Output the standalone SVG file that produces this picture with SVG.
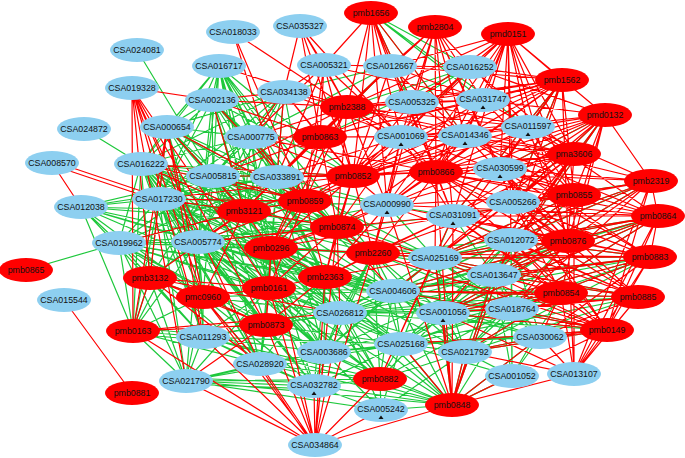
<svg xmlns="http://www.w3.org/2000/svg" width="685" height="458" viewBox="0 0 685 458">
<style>
.g{fill:none;stroke:#1ec83c;stroke-width:1.2}
.rd{fill:none;stroke:#ff0000;stroke-width:1.2}
.b ellipse{fill:#8dcff0}
.r ellipse{fill:#ff0000}
text{font-family:"Liberation Sans",Arial,sans-serif;font-size:8.8px;fill:#111;text-anchor:middle}
.tri{fill:#111}
</style>
<rect width="685" height="458" fill="#fff"/>
<g id="edges">
<path class="g" d="M137 50L213 176M84 129L141 164
M119 243L26 270 119 243 198 242 119 243 159 199 119 243 141 164 119 243 271 248 119 243 244 211 119 243 213 176 119 243 337 227 119 243 277 177 119 243 325 277 119 243 269 288 119 243 203 297 119 243 266 325 119 243 81 207 119 243 133 331 119 243 373 253 119 243 393 291 119 243 203 337 119 243 260 364 119 243 340 313 119 243 324 352 119 243 186 381 119 243 150 278
M81 207L159 199 81 207 133 331 81 207 213 176 81 207 198 242 81 207 244 211 81 207 277 177 81 207 271 248 81 207 337 227 81 207 325 277 81 207 269 288 81 207 203 337 81 207 203 297
M141 164L213 176 141 164 277 177 141 164 159 199 141 164 198 242 141 164 244 211 141 164 271 248 141 164 337 227 141 164 305 201 141 164 251 137 141 164 269 288 141 164 325 277 141 164 203 297 141 164 203 337 141 164 340 313 141 164 324 352 141 164 260 364 141 164 373 253 141 164 393 291 141 164 353 176 141 164 387 205 141 164 266 325 141 164 314 386 141 164 150 278
M159 199L213 176 159 199 277 177 159 199 198 242 159 199 244 211 159 199 271 248 159 199 337 227 159 199 325 277 159 199 269 288 159 199 373 253 159 199 393 291 159 199 340 313 159 199 266 325 159 199 324 352 159 199 260 364 159 199 203 337 159 199 435 258 159 199 203 297 159 199 314 386 159 199 387 205 159 199 305 201 159 199 251 137 159 199 186 381 159 199 380 379 159 199 401 344 159 199 150 278
M198 242L277 177 198 242 213 176 198 242 271 248 198 242 337 227 198 242 373 253 198 242 325 277 198 242 269 288 198 242 393 291 198 242 340 313 198 242 324 352 198 242 260 364 198 242 266 325 198 242 435 258 198 242 314 386 198 242 203 337 198 242 203 297 198 242 150 278 198 242 443 313 198 242 401 344 198 242 186 381 198 242 380 379 198 242 387 205 198 242 453 216 198 242 305 201 198 242 244 211
M213 176L277 177 213 176 271 248 213 176 337 227 213 176 373 253 213 176 325 277 213 176 393 291 213 176 435 258 213 176 340 313 213 176 269 288 213 176 387 205 213 176 453 216 213 176 324 352 213 176 305 201 213 176 251 137 213 176 353 176 213 176 244 211 213 176 260 364 213 176 203 297 213 176 150 278 213 176 133 331 213 176 266 325
M219 66L213 176 219 66 277 177 219 66 251 137 219 66 159 199 219 66 198 242 219 66 244 211 219 66 271 248 219 66 337 227 219 66 167 127 219 66 141 164 219 66 305 201 219 66 353 176 219 66 325 277 219 66 269 288 219 66 212 100 219 66 373 253
M212 100L251 137 212 100 213 176 212 100 277 177 212 100 159 199 212 100 198 242 212 100 305 201 212 100 337 227 212 100 271 248 212 100 244 211 212 100 353 176 212 100 141 164 212 100 269 288 212 100 325 277
M167 127L251 137 167 127 213 176 167 127 277 177 167 127 159 199 167 127 198 242 167 127 284 92 167 127 244 211 167 127 271 248 167 127 305 201 167 127 337 227 167 127 212 100 167 127 141 164 167 127 269 288 167 127 325 277 167 127 203 297
M284 92L251 137 284 92 213 176 284 92 277 177 284 92 305 201 284 92 159 199 284 92 141 164 284 92 244 211 284 92 271 248 284 92 198 242
M251 137L277 177 251 137 213 176 251 137 244 211 251 137 271 248 251 137 337 227 251 137 305 201 251 137 159 199 251 137 198 242 251 137 325 277 251 137 269 288
M277 177L271 248 277 177 337 227 277 177 373 253 277 177 325 277 277 177 269 288 277 177 393 291 277 177 340 313 277 177 435 258 277 177 324 352 277 177 244 211 277 177 387 205
M150 278L198 242 150 278 159 199 150 278 119 243M133 331L119 243 133 331 213 176M203 297L213 176
M371 13L470 67 371 13 483 100 371 13 528 127 371 13 412 102 371 13 465 136
M562 80L528 127 562 80 500 169 562 80 513 202 562 80 453 216
M605 115L513 202 605 115 511 240 605 115 500 169 605 115 494 275
M470 67L412 102 470 67 347 107 470 67 320 137 470 67 401 137
M390 66L347 107 390 66 320 137 390 66 284 92 390 66 412 102 390 66 251 137
M651 181L511 240 651 181 494 275 651 181 435 258 651 181 393 291 651 181 513 202
M658 216L494 275 658 216 511 240 658 216 443 313 658 216 435 258 658 216 393 291 658 216 512 309 658 216 340 313
M650 257L494 275 650 257 435 258 650 257 443 313 650 257 465 352 650 257 393 291 650 257 340 313 650 257 401 344 650 257 512 309 650 257 511 240
M638 297L435 258 638 297 465 352 638 297 401 344 638 297 393 291 638 297 340 313 638 297 443 313 638 297 494 275
M607 330L401 344 607 330 340 313 607 330 324 352 607 330 465 352 607 330 443 313 607 330 393 291 607 330 512 309
M574 195L511 240 574 195 494 275 574 195 435 258 574 195 453 216
M568 241L435 258 568 241 393 291 568 241 443 313 568 241 340 313 568 241 401 344 568 241 324 352 568 241 465 352 568 241 494 275
M561 293L340 313 561 293 393 291 561 293 401 344 561 293 324 352 561 293 465 352 561 293 512 376 561 293 325 277 561 293 443 313
M271 248L393 291 271 248 340 313 271 248 435 258 271 248 324 352 271 248 401 344 271 248 260 364 271 248 314 386 271 248 443 313 271 248 465 352 271 248 380 379
M373 253L393 291 373 253 340 313 373 253 401 344 373 253 324 352 373 253 443 313 373 253 465 352 373 253 512 309 373 253 494 275 373 253 511 240 373 253 314 386 373 253 380 379 373 253 452 405
M325 277L393 291 325 277 340 313 325 277 401 344 325 277 324 352 325 277 314 386 325 277 260 364 325 277 443 313 325 277 465 352 325 277 380 379 325 277 452 405 325 277 381 410
M269 288L340 313 269 288 324 352 269 288 260 364 269 288 314 386 269 288 393 291 269 288 203 337 269 288 401 344 269 288 186 381 269 288 380 379 269 288 452 405
M203 297L203 337 203 297 186 381 203 297 133 331 203 297 260 364 203 297 314 386 203 297 340 313 203 297 324 352 203 297 150 278 203 297 393 291
M150 278L133 331 150 278 203 337 150 278 186 381
M133 331L203 337 133 331 186 381 133 331 159 199 133 331 198 242 133 331 141 164 133 331 260 364M133 328L203 334M133 334L203 340
M203 337L186 381 203 337 260 364 203 337 314 386 203 337 266 325 203 337 340 313 203 337 324 352 203 337 380 379 203 337 401 344 203 337 452 405
M266 325L340 313 266 325 324 352 266 325 260 364 266 325 314 386 266 325 401 344 266 325 380 379 266 325 393 291
M186 381L314 386 186 381 260 364 186 381 380 379 186 381 401 344 186 381 452 405 186 381 324 352 186 381 381 410M186 378L314 383M186 384L314 389
M260 364L314 386 260 364 324 352 260 364 380 379
M314 386L380 379 314 386 381 410 314 386 452 405 314 386 324 352 314 386 401 344
M452 405L465 352 452 405 512 376 452 405 401 344 452 405 324 352 452 405 340 313 452 405 393 291 452 405 443 313 452 405 512 309 452 405 540 337 452 405 494 275 452 405 511 240 452 405 381 410 452 405 380 379 452 405 260 364 452 405 203 337 452 405 435 258
M380 379L401 344 380 379 324 352 380 379 340 313 380 379 393 291 380 379 443 313 380 379 465 352 380 379 512 309 380 379 381 410
M381 410L401 344 381 410 324 352 381 410 465 352
M401 344L340 313 401 344 324 352 401 344 393 291 401 344 443 313 401 344 465 352 401 344 512 309 401 344 540 337 401 344 512 376 401 344 494 275 401 344 511 240 401 344 435 258
M465 352L443 313 465 352 512 309 465 352 540 337 465 352 512 376 465 352 494 275 465 352 435 258 465 352 393 291 465 352 340 313
M512 376L540 337 512 376 512 309 512 376 494 275 512 376 511 240
M540 337L512 309 540 337 494 275 540 337 511 240 540 337 435 258 540 337 393 291 540 337 443 313
M512 309L494 275 512 309 511 240 512 309 435 258 512 309 393 291 512 309 443 313 512 309 340 313
M494 275L511 240 494 275 435 258 494 275 393 291 494 275 443 313 494 275 340 313 494 275 453 216
M511 240L435 258 511 240 393 291 511 240 453 216 511 240 443 313
M435 258L393 291 435 258 340 313 435 258 443 313 435 258 453 216 435 258 387 205 435 258 324 352
M393 291L340 313 393 291 324 352 393 291 443 313
M340 313L324 352 340 313 443 313"/>
<path class="rd" d="M64 300L132 393M52 163L81 207M52 161L159 197M52 165L159 201
M132 88L212 100 132 88 133 331 132 88 150 278 132 88 186 381 132 88 203 337 132 88 203 297 132 88 198 242 132 88 260 364 132 88 266 325 132 88 269 288
M212 100L284 92M233 32L277 177 233 32 305 201
M300 26L324 65 300 26 320 137 300 26 347 107 300 26 284 92 300 26 401 137 300 26 353 176
M371 13L324 65 371 13 390 66 371 13 401 137 371 13 347 107 371 13 412 102 371 13 436 172 371 13 387 205 371 13 353 176 371 13 465 136 371 13 453 216
M435 27L412 102 435 27 401 137 435 27 390 66 435 27 483 100 435 27 465 136 435 27 436 172 435 27 500 169 435 27 387 205 435 27 528 127 435 27 347 107 435 27 353 176 435 27 453 216 435 27 513 202
M508 34L470 67 508 34 483 100 508 34 465 136 508 34 401 137 508 34 528 127 508 34 500 169 508 34 513 202 508 34 436 172 508 34 412 102 508 34 574 154 508 34 574 195 508 34 453 216 508 34 390 66 508 34 605 115 508 34 511 240 508 34 568 241 508 34 387 205 508 34 347 107 508 34 562 80
M562 80L470 67 562 80 483 100 562 80 465 136 562 80 401 137 562 80 528 127 562 80 500 169 562 80 513 202 562 80 436 172 562 80 453 216 562 80 390 66 562 80 412 102 562 80 574 195 562 80 511 240 562 80 387 205 562 80 353 176 562 80 347 107 562 80 568 241 562 80 435 258 562 80 320 137
M605 115L465 136 605 115 528 127 605 115 500 169 605 115 401 137 605 115 483 100 605 115 470 67 605 115 436 172 605 115 513 202 605 115 453 216 605 115 511 240 605 115 568 241 605 115 574 195 605 115 387 205 605 115 353 176 605 115 435 258 605 115 494 275 605 115 561 293 605 115 651 181
M574 154L465 136 574 154 528 127 574 154 401 137 574 154 500 169 574 154 483 100 574 154 470 67 574 154 453 216 574 154 387 205 574 154 436 172 574 154 513 202 574 154 511 240 574 154 435 258 574 154 494 275 574 154 353 176 574 154 347 107 574 154 568 241 574 154 393 291 574 154 443 313
M651 181L500 169 651 181 513 202 651 181 528 127 651 181 465 136 651 181 453 216 651 181 511 240 651 181 436 172 651 181 494 275 651 181 435 258 651 181 574 195 651 181 568 241 651 181 512 309 651 181 607 330 651 181 658 216
M658 216L500 169 658 216 513 202 658 216 453 216 658 216 511 240 658 216 494 275 658 216 435 258 658 216 465 136 658 216 528 127 658 216 436 172 658 216 387 205 658 216 393 291 658 216 443 313 658 216 512 309 658 216 607 330 658 216 650 257
M650 257L513 202 650 257 453 216 650 257 511 240 650 257 494 275 650 257 435 258 650 257 500 169 650 257 436 172 650 257 393 291 650 257 443 313 650 257 512 309 650 257 540 337 650 257 387 205 650 257 465 136 650 257 373 253 650 257 607 330
M638 297L511 240 638 297 494 275 638 297 435 258 638 297 453 216 638 297 513 202 638 297 443 313 638 297 512 309 638 297 393 291 638 297 540 337 638 297 387 205 638 297 436 172 638 297 500 169 638 297 574 374
M607 330L574 374 607 330 540 337 607 330 512 309 607 330 512 376 607 330 494 275 607 330 511 240 607 330 435 258 607 330 443 313 607 330 465 352 607 330 453 216 607 330 513 202 607 330 500 169 607 330 393 291 607 330 373 253 607 330 401 344
M574 195L500 169 574 195 513 202 574 195 528 127 574 195 465 136 574 195 483 100 574 195 401 137 574 195 453 216 574 195 511 240 574 195 435 258 574 195 494 275 574 195 387 205 574 195 436 172
M568 241L511 240 568 241 513 202 568 241 500 169 568 241 453 216 568 241 435 258 568 241 494 275 568 241 465 136 568 241 528 127 568 241 393 291 568 241 443 313 568 241 512 309 568 241 436 172
M561 293L494 275 561 293 511 240 561 293 435 258 561 293 512 309 561 293 443 313 561 293 465 352 561 293 540 337 561 293 393 291 561 293 453 216 561 293 513 202
M436 172L401 137 436 172 465 136 436 172 483 100 436 172 528 127 436 172 500 169 436 172 387 205 436 172 453 216 436 172 513 202 436 172 470 67 436 172 390 66 436 172 412 102 436 172 347 107 436 172 353 176 436 172 511 240 436 172 435 258 436 172 277 177 436 172 251 137
M401 137L347 107 401 137 320 137 401 137 353 176 401 137 324 65 401 137 284 92 401 137 251 137 401 137 277 177 401 137 305 201 401 137 337 227 401 137 387 205 401 137 453 216 401 137 373 253 401 137 465 136
M465 136L347 107 465 136 353 176 465 136 320 137 465 136 412 102 465 136 390 66 465 136 305 201 465 136 337 227 465 136 387 205 465 136 373 253 465 136 483 100
M483 100L347 107 483 100 412 102 483 100 390 66 483 100 324 65 483 100 353 176 483 100 320 137
M528 127L401 137 528 127 412 102 528 127 353 176 528 127 347 107 528 127 500 169
M470 67L401 137 470 67 353 176 470 67 390 66
M347 107L324 65 347 107 284 92 347 107 390 66 347 107 412 102 347 107 251 137 347 107 277 177 347 107 320 137 347 107 219 66 347 107 212 100 347 107 213 176 347 107 305 201 347 107 337 227 347 107 387 205 347 107 271 248 347 107 244 211 347 107 233 32
M320 137L324 65 320 137 284 92 320 137 251 137 320 137 277 177 320 137 213 176 320 137 305 201 320 137 353 176 320 137 390 66 320 137 412 102 320 137 244 211 320 137 337 227 320 137 271 248 320 137 212 100
M353 176L277 177 353 176 251 137 353 176 305 201 353 176 337 227 353 176 324 65 353 176 284 92 353 176 412 102 353 176 390 66 353 176 244 211 353 176 271 248 353 176 213 176 353 176 387 205 353 176 373 253 353 176 325 277 353 176 141 164 353 176 159 199
M305 201L277 177 305 201 213 176 305 201 244 211 305 201 251 137 305 201 337 227 305 201 271 248 305 201 159 199 305 201 141 164 305 201 198 242 305 201 325 277 305 201 269 288 305 201 212 100 305 201 167 127
M244 211L213 176 244 211 277 177 244 211 159 199 244 211 141 164 244 211 198 242 244 211 271 248 244 211 337 227 244 211 167 127 244 211 212 100 244 211 119 243 244 211 150 278 244 211 203 297
M337 227L277 177 337 227 387 205 337 227 271 248 337 227 373 253 337 227 325 277 337 227 198 242 337 227 269 288 337 227 393 291 337 227 340 313 337 227 435 258 337 227 453 216
M324 65L284 92 324 65 251 137 324 65 277 177 324 65 305 201 324 65 390 66
M284 92L251 137 284 92 277 177
M167 127L150 278 167 127 203 297 167 127 203 337 167 127 133 331
M271 248L373 253 271 248 325 277 271 248 269 288 271 248 266 325 271 248 387 205 271 248 453 216
M373 253L387 205 373 253 453 216 373 253 435 258 373 253 325 277 373 253 513 202
M325 277L269 288 325 277 266 325 325 277 435 258 325 277 453 216 325 277 387 205
M269 288L266 325 269 288 203 297 269 288 150 278
M203 297L150 278 203 297 266 325 203 297 260 364
M150 278L260 364 150 278 266 325 150 278 340 313
M133 331L315 445 133 331 340 313 133 331 266 325 133 331 150 278
M266 325L186 381
M315 445L452 405 315 445 381 410 315 445 203 337 315 445 203 297 315 445 314 386 315 445 324 352 315 445 340 313 315 445 325 277 315 445 337 227 315 445 373 253 315 445 271 248 315 445 269 288 315 445 266 325 315 445 260 364 315 445 186 381 315 445 380 379M313 445L258 364
M452 405L574 374 452 405 512 376 452 405 465 352 452 405 443 313 452 405 435 258 452 405 453 216 452 405 387 205 452 405 436 172 452 405 511 240 452 405 494 275 452 405 401 344 452 405 540 337
M574 374L540 337 574 374 443 313 574 374 465 352 574 374 607 330 574 374 638 297 574 374 650 257 574 374 658 216 574 374 651 181 574 374 561 293 574 374 568 241 574 374 574 195
M465 352L540 337M380 379L435 258 380 379 453 216"/>
</g>
<g id="nodes">
<g id="CSA024081" class="b"><ellipse cx="137" cy="50" rx="27" ry="12"/><text x="137" y="53">CSA024081</text></g>
<g id="CSA018033" class="b"><ellipse cx="233" cy="32" rx="27" ry="12"/><text x="233" y="35">CSA018033</text></g>
<g id="CSA035327" class="b"><ellipse cx="300" cy="26" rx="27" ry="12"/><text x="300" y="29">CSA035327</text></g>
<g id="CSA016717" class="b"><ellipse cx="219" cy="66" rx="27" ry="12"/><text x="219" y="69">CSA016717</text></g>
<g id="CSA005321" class="b"><ellipse cx="324" cy="65" rx="27" ry="12"/><text x="324" y="68">CSA005321</text></g>
<g id="CSA012667" class="b"><ellipse cx="390" cy="66" rx="27" ry="12"/><text x="390" y="69">CSA012667</text></g>
<g id="CSA016252" class="b"><ellipse cx="470" cy="67" rx="27" ry="12"/><text x="470" y="70">CSA016252</text></g>
<g id="CSA019328" class="b"><ellipse cx="132" cy="88" rx="27" ry="12"/><text x="132" y="91">CSA019328</text></g>
<g id="CSA002136" class="b"><ellipse cx="212" cy="100" rx="27" ry="12"/><text x="212" y="103">CSA002136</text></g>
<g id="CSA034138" class="b"><ellipse cx="284" cy="92" rx="27" ry="12"/><text x="284" y="95">CSA034138</text></g>
<g id="CSA005325" class="b"><ellipse cx="412" cy="102" rx="27" ry="12"/><text x="412" y="105">CSA005325</text></g>
<g id="CSA031747" class="b"><ellipse cx="483" cy="100" rx="27" ry="12"/><text x="483" y="102">CSA031747</text><path class="tri" d="M480.5 109H485.5L483 105.5Z"/></g>
<g id="CSA024872" class="b"><ellipse cx="84" cy="129" rx="27" ry="12"/><text x="84" y="132">CSA024872</text></g>
<g id="CSA000654" class="b"><ellipse cx="167" cy="127" rx="27" ry="12"/><text x="167" y="130">CSA000654</text></g>
<g id="CSA000775" class="b"><ellipse cx="251" cy="137" rx="27" ry="12"/><text x="251" y="140">CSA000775</text></g>
<g id="CSA001069" class="b"><ellipse cx="401" cy="137" rx="27" ry="12"/><text x="401" y="139">CSA001069</text><path class="tri" d="M398.5 146H403.5L401 142.5Z"/></g>
<g id="CSA014346" class="b"><ellipse cx="465" cy="136" rx="27" ry="12"/><text x="465" y="138">CSA014346</text><path class="tri" d="M462.5 145H467.5L465 141.5Z"/></g>
<g id="CSA011597" class="b"><ellipse cx="528" cy="127" rx="27" ry="12"/><text x="528" y="129">CSA011597</text><path class="tri" d="M525.5 136H530.5L528 132.5Z"/></g>
<g id="CSA008570" class="b"><ellipse cx="52" cy="163" rx="27" ry="12"/><text x="52" y="166">CSA008570</text></g>
<g id="CSA016222" class="b"><ellipse cx="141" cy="164" rx="27" ry="12"/><text x="141" y="167">CSA016222</text></g>
<g id="CSA005815" class="b"><ellipse cx="213" cy="176" rx="27" ry="12"/><text x="213" y="179">CSA005815</text></g>
<g id="CSA033891" class="b"><ellipse cx="277" cy="177" rx="27" ry="12"/><text x="277" y="180">CSA033891</text></g>
<g id="CSA030599" class="b"><ellipse cx="500" cy="169" rx="27" ry="12"/><text x="500" y="171">CSA030599</text><path class="tri" d="M497.5 178H502.5L500 174.5Z"/></g>
<g id="CSA017230" class="b"><ellipse cx="159" cy="199" rx="27" ry="12"/><text x="159" y="202">CSA017230</text></g>
<g id="CSA012038" class="b"><ellipse cx="81" cy="207" rx="27" ry="12"/><text x="81" y="210">CSA012038</text></g>
<g id="CSA000990" class="b"><ellipse cx="387" cy="205" rx="27" ry="12"/><text x="387" y="207">CSA000990</text><path class="tri" d="M384.5 214H389.5L387 210.5Z"/></g>
<g id="CSA031091" class="b"><ellipse cx="453" cy="216" rx="27" ry="12"/><text x="453" y="218">CSA031091</text><path class="tri" d="M450.5 225H455.5L453 221.5Z"/></g>
<g id="CSA005266" class="b"><ellipse cx="513" cy="202" rx="27" ry="12"/><text x="513" y="205">CSA005266</text></g>
<g id="CSA019962" class="b"><ellipse cx="119" cy="243" rx="27" ry="12"/><text x="119" y="246">CSA019962</text></g>
<g id="CSA005774" class="b"><ellipse cx="198" cy="242" rx="27" ry="12"/><text x="198" y="245">CSA005774</text></g>
<g id="CSA012072" class="b"><ellipse cx="511" cy="240" rx="27" ry="12"/><text x="511" y="243">CSA012072</text></g>
<g id="CSA025169" class="b"><ellipse cx="435" cy="258" rx="27" ry="12"/><text x="435" y="261">CSA025169</text></g>
<g id="CSA013647" class="b"><ellipse cx="494" cy="275" rx="27" ry="12"/><text x="494" y="278">CSA013647</text></g>
<g id="CSA004606" class="b"><ellipse cx="393" cy="291" rx="27" ry="12"/><text x="393" y="294">CSA004606</text></g>
<g id="CSA015544" class="b"><ellipse cx="64" cy="300" rx="27" ry="12"/><text x="64" y="303">CSA015544</text></g>
<g id="CSA026812" class="b"><ellipse cx="340" cy="313" rx="27" ry="12"/><text x="340" y="316">CSA026812</text></g>
<g id="CSA001056" class="b"><ellipse cx="443" cy="313" rx="27" ry="12"/><text x="443" y="315">CSA001056</text><path class="tri" d="M440.5 322H445.5L443 318.5Z"/></g>
<g id="CSA018764" class="b"><ellipse cx="512" cy="309" rx="27" ry="12"/><text x="512" y="312">CSA018764</text></g>
<g id="CSA011293" class="b"><ellipse cx="203" cy="337" rx="27" ry="12"/><text x="203" y="340">CSA011293</text></g>
<g id="CSA030062" class="b"><ellipse cx="540" cy="337" rx="27" ry="12"/><text x="540" y="340">CSA030062</text></g>
<g id="CSA025168" class="b"><ellipse cx="401" cy="344" rx="27" ry="12"/><text x="401" y="347">CSA025168</text></g>
<g id="CSA003686" class="b"><ellipse cx="324" cy="352" rx="27" ry="12"/><text x="324" y="355">CSA003686</text></g>
<g id="CSA021792" class="b"><ellipse cx="465" cy="352" rx="27" ry="12"/><text x="465" y="355">CSA021792</text></g>
<g id="CSA028920" class="b"><ellipse cx="260" cy="364" rx="27" ry="12"/><text x="260" y="367">CSA028920</text></g>
<g id="CSA032782" class="b"><ellipse cx="314" cy="386" rx="27" ry="12"/><text x="314" y="388">CSA032782</text><path class="tri" d="M311.5 395H316.5L314 391.5Z"/></g>
<g id="CSA021790" class="b"><ellipse cx="186" cy="381" rx="27" ry="12"/><text x="186" y="384">CSA021790</text></g>
<g id="CSA001052" class="b"><ellipse cx="512" cy="376" rx="27" ry="12"/><text x="512" y="379">CSA001052</text></g>
<g id="CSA013107" class="b"><ellipse cx="574" cy="374" rx="27" ry="12"/><text x="574" y="377">CSA013107</text></g>
<g id="CSA005242" class="b"><ellipse cx="381" cy="410" rx="27" ry="12"/><text x="381" y="412">CSA005242</text><path class="tri" d="M378.5 419H383.5L381 415.5Z"/></g>
<g id="CSA034864" class="b"><ellipse cx="315" cy="445" rx="27" ry="12"/><text x="315" y="448">CSA034864</text></g>
<g id="pmb1656" class="r"><ellipse cx="371" cy="13" rx="27" ry="12"/><text x="371" y="16">pmb1656</text></g>
<g id="pmb2804" class="r"><ellipse cx="435" cy="27" rx="27" ry="12"/><text x="435" y="30">pmb2804</text></g>
<g id="pmd0151" class="r"><ellipse cx="508" cy="34" rx="27" ry="12"/><text x="508" y="37">pmd0151</text></g>
<g id="pmb1562" class="r"><ellipse cx="562" cy="80" rx="27" ry="12"/><text x="562" y="83">pmb1562</text></g>
<g id="pmd0132" class="r"><ellipse cx="605" cy="115" rx="27" ry="12"/><text x="605" y="118">pmd0132</text></g>
<g id="pmb2388" class="r"><ellipse cx="347" cy="107" rx="27" ry="12"/><text x="347" y="110">pmb2388</text></g>
<g id="pmb0863" class="r"><ellipse cx="320" cy="137" rx="27" ry="12"/><text x="320" y="140">pmb0863</text></g>
<g id="pma3606" class="r"><ellipse cx="574" cy="154" rx="27" ry="12"/><text x="574" y="157">pma3606</text></g>
<g id="pmb0852" class="r"><ellipse cx="353" cy="176" rx="27" ry="12"/><text x="353" y="179">pmb0852</text></g>
<g id="pmb0866" class="r"><ellipse cx="436" cy="172" rx="27" ry="12"/><text x="436" y="175">pmb0866</text></g>
<g id="pmb2319" class="r"><ellipse cx="651" cy="181" rx="27" ry="12"/><text x="651" y="184">pmb2319</text></g>
<g id="pmb0855" class="r"><ellipse cx="574" cy="195" rx="27" ry="12"/><text x="574" y="198">pmb0855</text></g>
<g id="pmb0859" class="r"><ellipse cx="305" cy="201" rx="27" ry="12"/><text x="305" y="204">pmb0859</text></g>
<g id="pmb3121" class="r"><ellipse cx="244" cy="211" rx="27" ry="12"/><text x="244" y="214">pmb3121</text></g>
<g id="pmb0864" class="r"><ellipse cx="658" cy="216" rx="27" ry="12"/><text x="658" y="219">pmb0864</text></g>
<g id="pmb0874" class="r"><ellipse cx="337" cy="227" rx="27" ry="12"/><text x="337" y="230">pmb0874</text></g>
<g id="pmb0876" class="r"><ellipse cx="568" cy="241" rx="27" ry="12"/><text x="568" y="244">pmb0876</text></g>
<g id="pmb0296" class="r"><ellipse cx="271" cy="248" rx="27" ry="12"/><text x="271" y="251">pmb0296</text></g>
<g id="pmb2260" class="r"><ellipse cx="373" cy="253" rx="27" ry="12"/><text x="373" y="256">pmb2260</text></g>
<g id="pmb0883" class="r"><ellipse cx="650" cy="257" rx="27" ry="12"/><text x="650" y="260">pmb0883</text></g>
<g id="pmb0865" class="r"><ellipse cx="26" cy="270" rx="27" ry="12"/><text x="26" y="273">pmb0865</text></g>
<g id="pmb3132" class="r"><ellipse cx="150" cy="278" rx="27" ry="12"/><text x="150" y="281">pmb3132</text></g>
<g id="pmb2363" class="r"><ellipse cx="325" cy="277" rx="27" ry="12"/><text x="325" y="280">pmb2363</text></g>
<g id="pmb0161" class="r"><ellipse cx="269" cy="288" rx="27" ry="12"/><text x="269" y="291">pmb0161</text></g>
<g id="pmb0854" class="r"><ellipse cx="561" cy="293" rx="27" ry="12"/><text x="561" y="296">pmb0854</text></g>
<g id="pmb0885" class="r"><ellipse cx="638" cy="297" rx="27" ry="12"/><text x="638" y="300">pmb0885</text></g>
<g id="pmc0960" class="r"><ellipse cx="203" cy="297" rx="27" ry="12"/><text x="203" y="300">pmc0960</text></g>
<g id="pmb0873" class="r"><ellipse cx="266" cy="325" rx="27" ry="12"/><text x="266" y="328">pmb0873</text></g>
<g id="pmb0149" class="r"><ellipse cx="607" cy="330" rx="27" ry="12"/><text x="607" y="333">pmb0149</text></g>
<g id="pmb0163" class="r"><ellipse cx="133" cy="331" rx="27" ry="12"/><text x="133" y="334">pmb0163</text></g>
<g id="pmb0882" class="r"><ellipse cx="380" cy="379" rx="27" ry="12"/><text x="380" y="382">pmb0882</text></g>
<g id="pmb0881" class="r"><ellipse cx="132" cy="393" rx="27" ry="12"/><text x="132" y="396">pmb0881</text></g>
<g id="pmb0848" class="r"><ellipse cx="452" cy="405" rx="27" ry="12"/><text x="452" y="408">pmb0848</text></g>
</g>
</svg>
